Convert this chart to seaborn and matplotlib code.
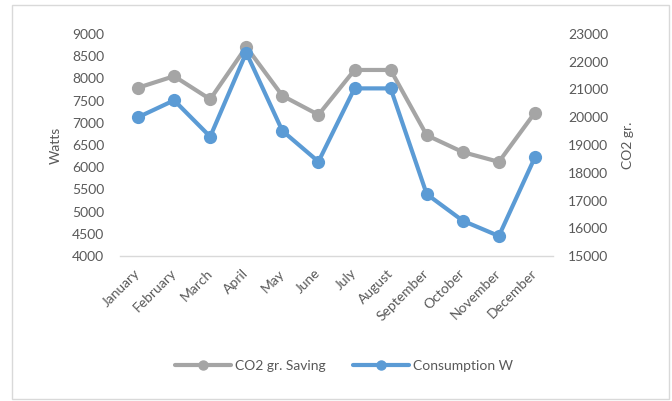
import matplotlib
matplotlib.use("Agg")
import matplotlib.pyplot as plt
import seaborn as sns
import pandas as pd
from matplotlib.patches import Rectangle
from matplotlib.lines import Line2D

months = ["January", "February", "March", "April", "May", "June", "July",
          "August", "September", "October", "November", "December"]
co2_saving = [7790, 8050, 7530, 8710, 7610, 7180, 8190, 8190, 6720, 6340, 6120, 7230]
consumption = [20000, 20610, 19300, 22330, 19510, 18400, 21040, 21040, 17230, 16270, 15720, 18560]
left_ticks = [4000, 4500, 5000, 5500, 6000, 6500, 7000, 7500, 8000, 8500, 9000]
right_ticks = [15000, 16000, 17000, 18000, 19000, 20000, 21000, 22000, 23000]

df = pd.DataFrame({"month": months, "pos": range(len(months)),
                   "co2": co2_saving, "cons": consumption})

sns.set_theme(style="white")
plt.rcParams["font.family"] = ["Lato", "DejaVu Sans"]

GRAY = "#A5A5A5"
BLUE = "#5B9BD5"
TXT = "#595959"

fig = plt.figure(figsize=(6.72, 4.01), dpi=100)
ax = fig.add_axes([120 / 672, 1 - 256 / 401, (553 - 120) / 672, (256 - 34) / 401])
ax2 = ax.twinx()

sns.lineplot(data=df, x="pos", y="co2", ax=ax, color=GRAY, linewidth=3.0,
             marker="o", markersize=9.5, markeredgewidth=0, legend=False)
sns.lineplot(data=df, x="pos", y="cons", ax=ax2, color=BLUE, linewidth=3.0,
             marker="o", markersize=9.5, markeredgewidth=0, legend=False)

ax.set_xlim(-0.5, len(months) - 0.5)
ax.set_ylim(4000, 9000)
ax2.set_ylim(15000, 23000)
ax.set_yticks(left_ticks)
ax2.set_yticks(right_ticks)
ax.set_xticks(range(len(months)))
ax.set_xticklabels(months, rotation=45, ha="right", va="center",
                   rotation_mode="anchor", fontsize=10, color=TXT)
ax.tick_params(axis="x", length=0, pad=11)
ax.tick_params(axis="y", length=0, pad=11.5, labelsize=10, labelcolor=TXT)
ax2.tick_params(axis="y", length=0, pad=11, labelsize=10, labelcolor=TXT)
ax.set_xlabel("")
ax.set_ylabel("Watts", fontsize=10, color=TXT, labelpad=7)
ax2.set_ylabel("CO2 gr.", fontsize=10, color=TXT, labelpad=10)

for a in (ax, ax2):
    for s in ["top", "left", "right", "bottom"]:
        a.spines[s].set_visible(False)
    a.grid(False)
ax.spines["bottom"].set_visible(True)
ax.spines["bottom"].set_color("#D9D9D9")
ax.spines["bottom"].set_linewidth(1.0)

handles = [Line2D([0], [0], color=GRAY, lw=3.0, marker="o", markersize=6.5),
           Line2D([0], [0], color=BLUE, lw=3.0, marker="o", markersize=6.5)]
leg = fig.legend(handles, ["CO2 gr. Saving", "Consumption W"], loc="center",
                 bbox_to_anchor=(344 / 672, 1 - 366 / 401), ncol=2, frameon=False,
                 fontsize=10, handlelength=4.0, handletextpad=0.3, columnspacing=2.0)
for t in leg.get_texts():
    t.set_color(TXT)

fig.patches.append(Rectangle((12 / 672, 1 - 399 / 401), (669 - 12) / 672, (399 - 5) / 401,
                             transform=fig.transFigure, fill=False,
                             edgecolor="#D9D9D9", linewidth=1.0))

fig.savefig("out.png", dpi=100)
